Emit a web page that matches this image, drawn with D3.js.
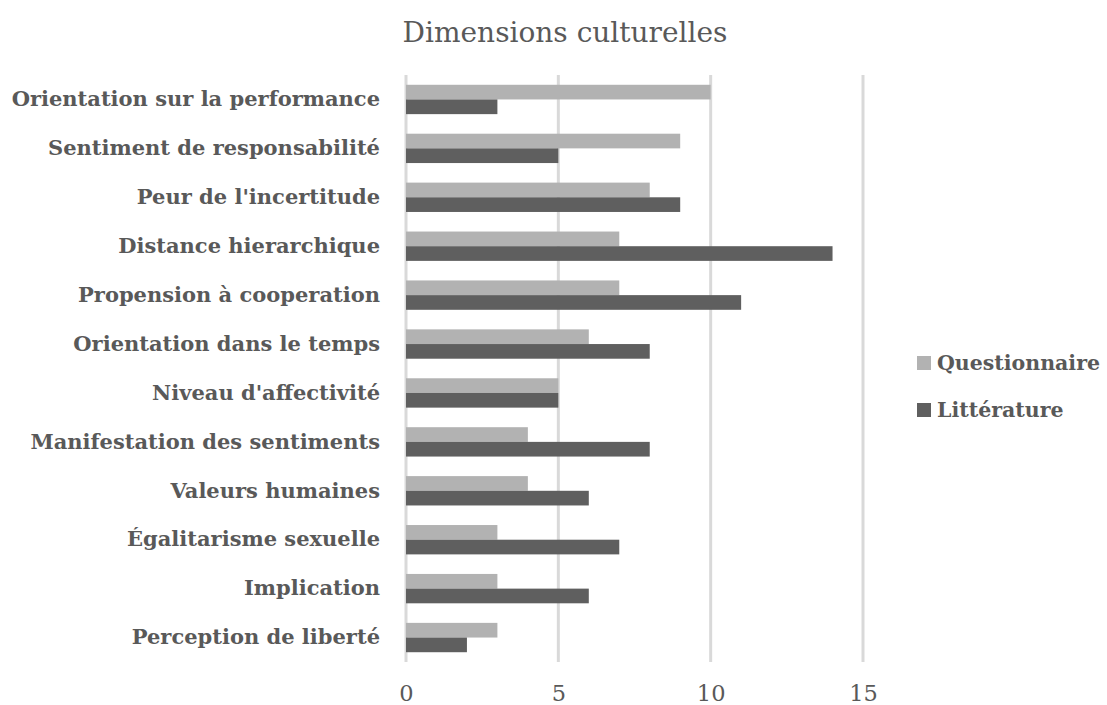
<!DOCTYPE html>
<html>
<head>
<meta charset="utf-8">
<script src="https://cdn.jsdelivr.net/npm/d3@7"></script>
<style>
  html, body { margin: 0; padding: 0; background: #fff; }
  svg text { font-family: "DejaVu Serif", "Liberation Serif", serif; }
</style>
</head>
<body>
<svg id="chart" width="1107" height="705"></svg>
<script>
// Cultural dimensions, listed top to bottom
const categories = [
  "Orientation sur la performance",
  "Sentiment de responsabilité",
  "Peur de l'incertitude",
  "Distance hierarchique",
  "Propension à cooperation",
  "Orientation dans le temps",
  "Niveau d'affectivité",
  "Manifestation des sentiments",
  "Valeurs humaines",
  "Égalitarisme sexuelle",
  "Implication",
  "Perception de liberté"
];
const seriesNames = ["Questionnaire", "Littérature"];
const questionnaire = [10, 9, 8, 7, 7, 6, 5, 4, 4, 3, 3, 3];
const litterature   = [3, 5, 9, 14, 11, 8, 5, 8, 6, 7, 6, 2];
const tickValues = [0, 5, 10, 15];
const colors = ["#b2b2b2", "#5f5f5f"];

const svg = d3.select("#chart");
const margin = { left: 406, right: 244, top: 75, bottom: 43 };
const W = 1107, H = 705;

const x = d3.scaleLinear().domain([0, 15]).range([margin.left, margin.left + 457]);
const y = d3.scaleBand().domain(categories).range([margin.top, H - margin.bottom]).paddingInner(0.4).paddingOuter(0.2);
const ySub = d3.scaleBand().domain(seriesNames).range([0, y.bandwidth()]);

// Title
svg.append("text")
  .attr("x", 565).attr("y", 42)
  .attr("text-anchor", "middle")
  .attr("font-size", 28)
  .attr("fill", "#595959")
  .text("Dimensions culturelles");

// Vertical gridlines
svg.append("g").selectAll("line").data(tickValues).join("line")
  .attr("x1", d => x(d)).attr("x2", d => x(d))
  .attr("y1", margin.top).attr("y2", H - margin.bottom)
  .attr("stroke", "#d9d9d9").attr("stroke-width", 3);

// Bars
const rows = categories.map((c, i) => ({ c, vals: [questionnaire[i], litterature[i]] }));
const g = svg.append("g").selectAll("g").data(rows).join("g")
  .attr("transform", d => `translate(0,${y(d.c)})`);
g.selectAll("rect").data(d => d.vals.map((v, k) => ({ v, s: seriesNames[k], k })))
  .join("rect")
  .attr("x", x(0))
  .attr("y", d => ySub(d.s))
  .attr("width", d => x(d.v) - x(0))
  .attr("height", ySub.bandwidth())
  .attr("fill", d => colors[d.k]);

// X axis labels
const xAxis = d3.axisBottom(x).tickValues(tickValues).tickSize(0).tickPadding(0);
const xa = svg.append("g").attr("transform", `translate(0,${H - 4})`).call(xAxis);
xa.select(".domain").remove();
xa.selectAll("text").attr("font-size", 22.5).attr("fill", "#595959")
  .attr("font-family", "'DejaVu Serif', serif").attr("dy", 0);

// Category labels
const yAxis = d3.axisLeft(y).tickSize(0).tickPadding(26);
const ya = svg.append("g").attr("transform", `translate(${margin.left},0)`).call(yAxis);
ya.select(".domain").remove();
ya.selectAll("text").attr("font-size", 21).attr("font-weight", "bold").attr("fill", "#595959")
  .attr("font-family", "'DejaVu Serif', serif");

// Legend
const leg = svg.append("g").selectAll("g").data(seriesNames).join("g")
  .attr("transform", (d, i) => `translate(917,${363 + i * 47})`);
leg.append("rect").attr("x", 0).attr("y", -7).attr("width", 14).attr("height", 14)
  .attr("fill", (d, i) => colors[i]);
leg.append("text").attr("x", 20).attr("y", 0).attr("dy", "0.35em")
  .attr("font-size", 20.5).attr("font-weight", "bold").attr("fill", "#595959")
  .text(d => d);
</script>
</body>
</html>
